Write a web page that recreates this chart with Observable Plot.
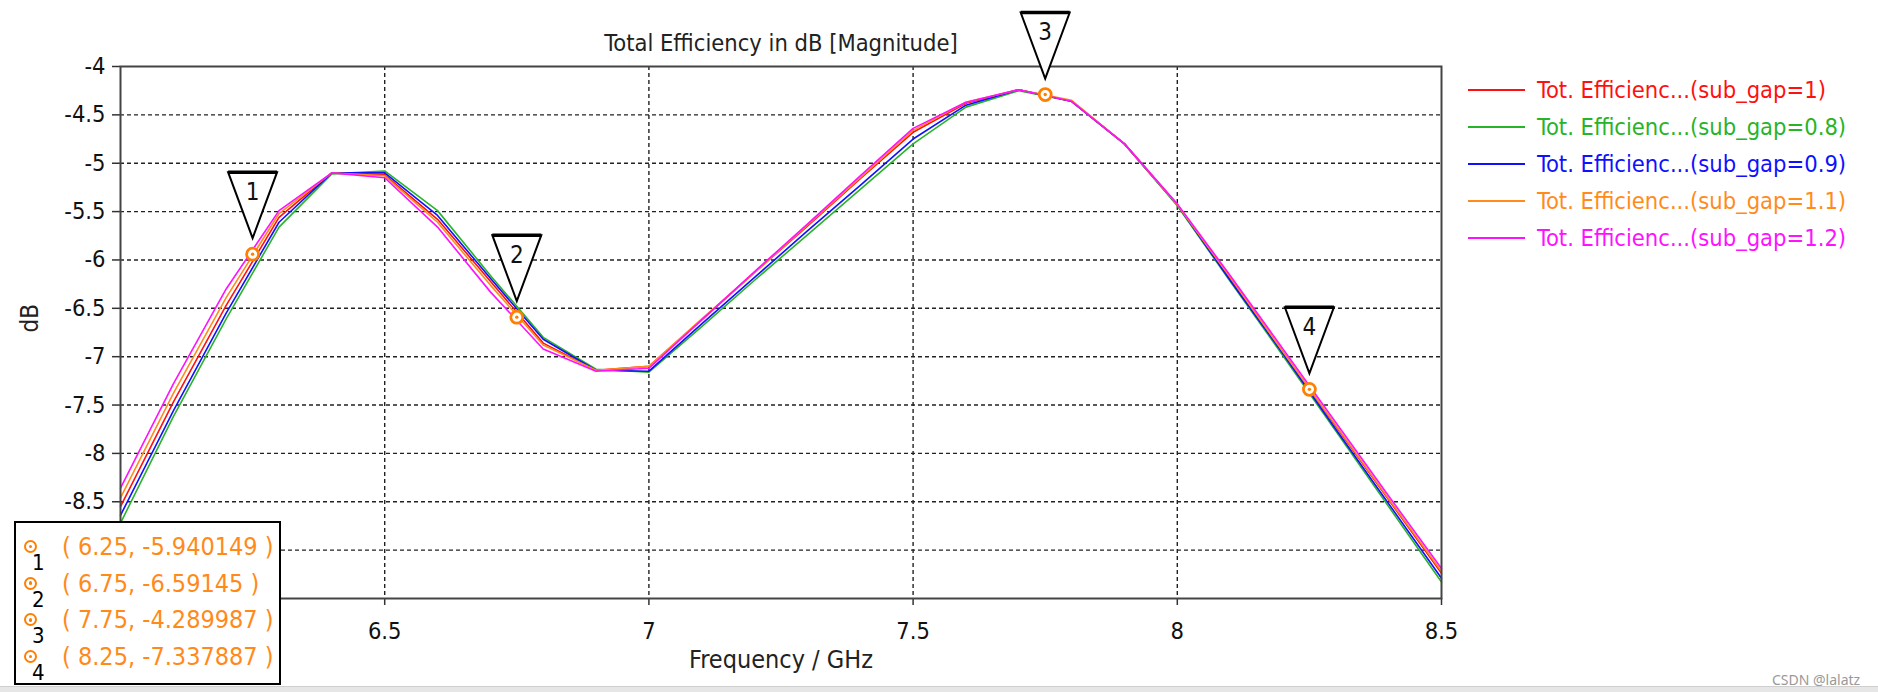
<!DOCTYPE html>
<html><head><meta charset="utf-8">
<script src="https://cdn.jsdelivr.net/npm/d3@7"></script>
<script src="https://cdn.jsdelivr.net/npm/@observablehq/plot@0.6"></script>
<style>
html,body{margin:0;padding:0;background:#fff;}
#wrap{position:relative;width:1878px;height:692px;overflow:hidden;font-family:"DejaVu Sans Condensed","DejaVu Sans",sans-serif;font-stretch:condensed;}
#wrap svg{position:absolute;left:0;top:0;overflow:visible;}
.legend{position:absolute;left:1468px;top:72px;}
.legend .row{position:relative;height:36.8px;display:flex;align-items:center;font-size:23.5px;white-space:nowrap;}
.legend .sw{width:57px;height:2px;margin-right:12px;}
.mtable{position:absolute;left:14px;top:521px;width:263px;height:160px;border:2.5px solid #000;background:#fff;}
.mtable .r{position:absolute;left:0;width:260px;height:36px;}
.mtable .c{position:absolute;left:8px;top:9px;width:9px;height:9px;border:2.8px solid #FF7F00;border-radius:50%;background:#fff;}
.mtable .c::after{content:"";position:absolute;left:2.8px;top:2.8px;width:3.4px;height:3.4px;border-radius:50%;background:#FF7F00;}
.mtable .n{position:absolute;left:16px;top:21px;font-size:22px;color:#000;line-height:22px;}
.mtable .t{position:absolute;left:46px;top:1px;font-size:25px;color:#FF8A1A;line-height:30px;white-space:nowrap;}
.wm{position:absolute;left:1772px;top:670px;font-size:14px;color:#999;font-family:"Noto Sans",sans-serif;}
.bar{position:absolute;left:0;top:686px;width:1878px;height:6px;background:#e6e6e6;border-top:1px solid #cfcfcf;}
</style></head><body><div id="wrap"></div>
<script>
const freqs = [6.0,6.1,6.2,6.3,6.4,6.5,6.6,6.7,6.8,6.9,7.0,7.1,7.2,7.3,7.4,7.5,7.6,7.7,7.8,7.9,8.0,8.1,8.2,8.3,8.4,8.5];
const seriesNames = ["Tot. Efficienc...(sub_gap=1)","Tot. Efficienc...(sub_gap=0.8)","Tot. Efficienc...(sub_gap=0.9)","Tot. Efficienc...(sub_gap=1.1)","Tot. Efficienc...(sub_gap=1.2)"];
const seriesColors = ["#FF1010","#28B428","#1010FF","#FF8C1A","#FF10FF"];
const gap1  = [-8.55,-7.47,-6.47,-5.56,-5.10,-5.12,-5.58,-6.22,-6.86,-7.14,-7.10,-6.62,-6.13,-5.65,-5.16,-4.68,-4.38,-4.24,-4.36,-4.80,-5.43,-6.19,-6.95,-7.72,-8.48,-9.24];
const gap08 = [-8.72,-7.62,-6.61,-5.66,-5.11,-5.08,-5.49,-6.16,-6.80,-7.13,-7.16,-6.69,-6.21,-5.74,-5.27,-4.80,-4.42,-4.25,-4.36,-4.80,-5.44,-6.22,-6.99,-7.77,-8.55,-9.33];
const gap09 = [-8.64,-7.56,-6.55,-5.61,-5.10,-5.10,-5.54,-6.19,-6.82,-7.14,-7.15,-6.66,-6.18,-5.70,-5.23,-4.75,-4.40,-4.24,-4.36,-4.80,-5.43,-6.21,-6.97,-7.75,-8.52,-9.29];
const gap11 = [-8.46,-7.38,-6.39,-5.52,-5.10,-5.13,-5.61,-6.26,-6.88,-7.14,-7.10,-6.61,-6.13,-5.64,-5.15,-4.66,-4.37,-4.24,-4.35,-4.80,-5.43,-6.18,-6.95,-7.71,-8.47,-9.22];
const gap12 = [-8.36,-7.28,-6.30,-5.49,-5.10,-5.15,-5.66,-6.33,-6.92,-7.15,-7.12,-6.62,-6.12,-5.63,-5.13,-4.64,-4.37,-4.24,-4.36,-4.80,-5.42,-6.16,-6.92,-7.68,-8.44,-9.19];
const seriesValues = [gap1, gap08, gap09, gap11, gap12];
const markerFreqs = [6.25, 6.75, 7.75, 8.25];
const markerValues = [-5.940149, -6.59145, -4.289987, -7.337887];
const markerLabels = ["1","2","3","4"];
const markerTexts = ["( 6.25, -5.940149 )","( 6.75, -6.59145 )","( 7.75, -4.289987 )","( 8.25, -7.337887 )"];
const xTicks = [6, 6.5, 7, 7.5, 8, 8.5];
const yTicks = [-9.5,-9,-8.5,-8,-7.5,-7,-6.5,-6,-5.5,-5,-4.5,-4];
const hiddenTickLabels = [6, -9, -9.5]; // covered by the marker table in the reference
const titleText = "Total Efficiency in dB [Magnitude]";
const xLabel = "Frequency / GHz";
const yLabel = "dB";

const data = [];
seriesNames.forEach((name, i) => freqs.forEach((f, j) => data.push({series: name, f, v: seriesValues[i][j]})));
const markers = markerFreqs.map((f, i) => ({f, v: markerValues[i], label: markerLabels[i]}));

const FONT = '"DejaVu Sans Condensed","DejaVu Sans",sans-serif';
const callout = {draw(ctx) { ctx.moveTo(-24.5, -82); ctx.lineTo(24.5, -82); ctx.lineTo(0, -16); ctx.closePath(); }};
const calloutTop = {draw(ctx) { ctx.moveTo(-24.5, -82); ctx.lineTo(24.5, -82); }};
const fmt = d => hiddenTickLabels.includes(d) ? "" : String(d);

const chart = Plot.plot({
  width: 1878, height: 692,
  marginLeft: 120, marginRight: 437, marginTop: 66, marginBottom: 94,
  x: {domain: [6, 8.5]},
  y: {domain: [-9.5, -4]},
  color: {domain: seriesNames, range: seriesColors},
  style: {fontFamily: FONT, fontSize: "23.5px", color: "#111", background: "transparent", fontStretch: "condensed"},
  marks: [
    Plot.gridX(xTicks.slice(1, -1), {stroke: "#222", strokeOpacity: 1, strokeWidth: 1.4, strokeDasharray: "4,3"}),
    Plot.gridY(yTicks.slice(1, -1), {stroke: "#222", strokeOpacity: 1, strokeWidth: 1.4, strokeDasharray: "4,3"}),
    Plot.axisX(xTicks, {tickSize: 7, tickPadding: 17, tickFormat: fmt, label: null, stroke: "#333", strokeWidth: 1.5}),
    Plot.axisY(yTicks, {tickSize: 8, tickPadding: 7, tickFormat: fmt, label: null, stroke: "#333", strokeWidth: 1.5}),
    Plot.line(data, {x: "f", y: "v", z: "series", stroke: "series", strokeWidth: 1.6}),
    Plot.frame({stroke: "#444", strokeWidth: 2}),
    Plot.dot(markers, {x: "f", y: "v", symbol: callout, fill: "white", stroke: "black", strokeWidth: 2}),
    Plot.dot(markers, {x: "f", y: "v", symbol: calloutTop, fill: "none", stroke: "black", strokeWidth: 3.5}),
    Plot.text(markers, {x: "f", y: "v", text: "label", dy: -62, fontSize: 24, fill: "#111"}),
    Plot.dot(markers, {x: "f", y: "v", r: 6, fill: "white", stroke: "#FF7F00", strokeWidth: 2.8}),
    Plot.dot(markers, {x: "f", y: "v", r: 1.7, fill: "#FF7F00"}),
    Plot.text([titleText], {frameAnchor: "top", dy: -32, fontSize: 23.5, fill: "#222", text: d => d}),
    Plot.text([xLabel], {frameAnchor: "bottom", dy: 69, fontSize: 25, fill: "#222", text: d => d}),
    Plot.text([yLabel], {frameAnchor: "left", dx: -90, rotate: -90, fontSize: 24, fill: "#222", text: d => d})
  ]
});
const wrap = document.getElementById("wrap");
wrap.appendChild(chart);

const legend = document.createElement("div");
legend.className = "legend";
seriesNames.forEach((name, i) => {
  const row = document.createElement("div");
  row.className = "row";
  row.innerHTML = `<div class="sw" style="background:${seriesColors[i]}"></div><span style="color:${seriesColors[i]}">${name}</span>`;
  legend.appendChild(row);
});
wrap.appendChild(legend);

const table = document.createElement("div");
table.className = "mtable";
markerTexts.forEach((t, i) => {
  const r = document.createElement("div");
  r.className = "r";
  r.style.top = (8 + i * 36.7) + "px";
  r.innerHTML = `<div class="c"></div><div class="n">${markerLabels[i]}</div><div class="t">${t}</div>`;
  table.appendChild(r);
});
wrap.appendChild(table);

const bar = document.createElement("div"); bar.className = "bar"; wrap.appendChild(bar);
const wm = document.createElement("div"); wm.className = "wm"; wm.textContent = "CSDN @lalatz"; wrap.appendChild(wm);
</script></body></html>
